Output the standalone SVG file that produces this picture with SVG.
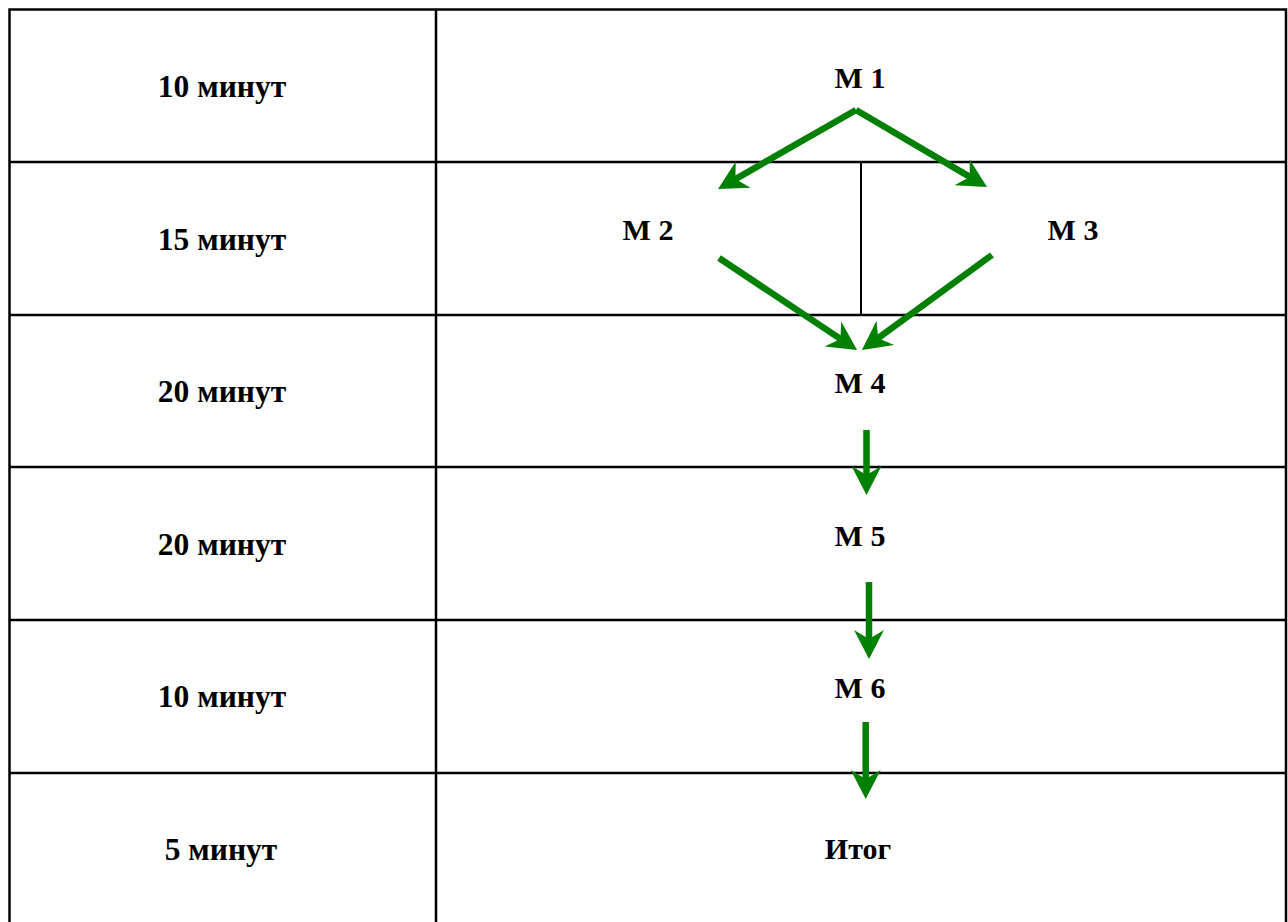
<svg xmlns="http://www.w3.org/2000/svg" width="1288" height="922" viewBox="0 0 1288 922">
<style>
.grid{stroke:#000;stroke-width:2.5;fill:none}
.lbl{font-family:"Liberation Serif","Times New Roman",serif;font-weight:bold;font-size:30px;fill:#000;text-anchor:middle}
.tm{font-size:31.5px}
.arr{stroke:#008000;stroke-width:6.5;fill:none;marker-end:url(#head)}
</style>
<defs>
<marker id="head" markerUnits="userSpaceOnUse" viewBox="-10 -16 32 32" markerWidth="32" markerHeight="32" refX="0" refY="0" orient="auto" overflow="visible">
<path d="M20 0 L-9 -15 L0 0 L-9 15 Z" fill="#008000"/>
</marker>
</defs>
<rect width="1288" height="922" fill="#fff"/>
<g id="table">
<path class="grid" d="M9.5 922 V9.5 H1286 V922"/>
<line class="grid" x1="436" y1="9.5" x2="436" y2="922"/>
<line class="grid" x1="9.5" y1="162" x2="1286" y2="162"/>
<line class="grid" x1="9.5" y1="315" x2="1286" y2="315"/>
<line class="grid" x1="9.5" y1="467" x2="1286" y2="467"/>
<line class="grid" x1="9.5" y1="620" x2="1286" y2="620"/>
<line class="grid" x1="9.5" y1="773" x2="1286" y2="773"/>
<line x1="861" y1="162" x2="861" y2="315" stroke="#000" stroke-width="2"/>
</g>
<g id="times">
<text class="lbl tm" x="222" y="97">10 минут</text>
<text class="lbl tm" x="222" y="250">15 минут</text>
<text class="lbl tm" x="222" y="402">20 минут</text>
<text class="lbl tm" x="222" y="555">20 минут</text>
<text class="lbl tm" x="222" y="707">10 минут</text>
<text class="lbl tm" x="221" y="860">5 минут</text>
</g>
<g id="m1"><text class="lbl" x="860" y="88">М 1</text></g>
<g id="m2"><text class="lbl" x="648" y="240">М 2</text></g>
<g id="m3"><text class="lbl" x="1073" y="240">М 3</text></g>
<g id="m4"><text class="lbl" x="860" y="393">М 4</text></g>
<g id="m5"><text class="lbl" x="860" y="546">М 5</text></g>
<g id="m6"><text class="lbl" x="860" y="698">М 6</text></g>
<g id="itog"><text class="lbl" x="858" y="859">Итог</text></g>
<g id="connectors">
<line class="arr" x1="856" y1="110" x2="735.4" y2="179.1"/>
<line class="arr" x1="856" y1="110" x2="969.8" y2="176.9"/>
<line class="arr" x1="719" y1="258" x2="840.4" y2="338.9"/>
<line class="arr" x1="992" y1="255" x2="878.1" y2="338.2"/>
<line class="arr" x1="866.5" y1="430" x2="866.5" y2="475"/>
<line class="arr" x1="869" y1="582" x2="869" y2="639"/>
<line class="arr" x1="865.7" y1="722" x2="865.7" y2="779"/>
</g>
</svg>
